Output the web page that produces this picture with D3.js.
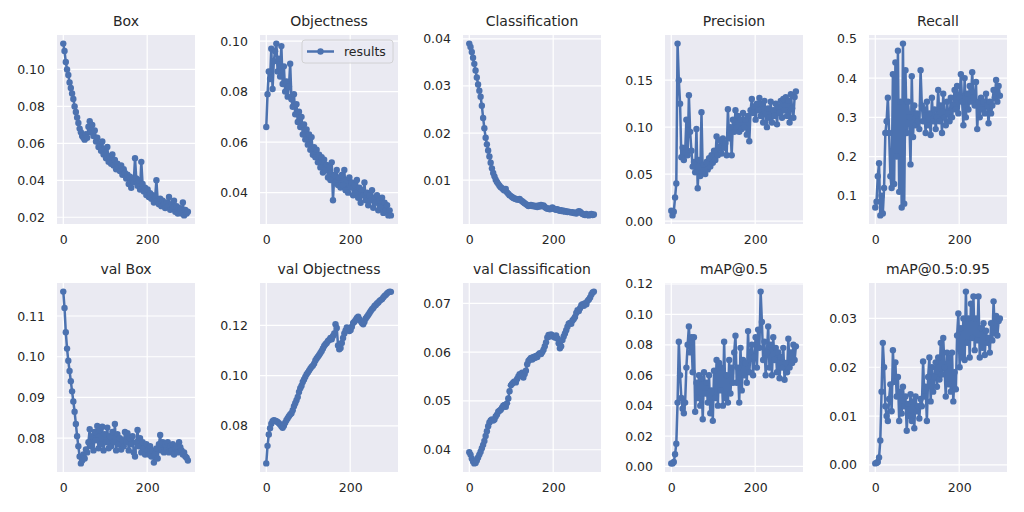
<!DOCTYPE html>
<html>
<head>
<meta charset="utf-8">
<script src="https://cdn.jsdelivr.net/npm/d3@7/dist/d3.min.js"></script>
<style>
  body { margin: 0; background: #fff; }
  text { font-family: "DejaVu Sans", sans-serif; fill: #262626; }
</style>
</head>
<body>
<svg id="chart" width="1024" height="512"></svg>
<script>
// every 3rd epoch, 0..297
var epochs = d3.range(0, 300, 3)

var box = [0.114, 0.110, 0.104, 0.100, 0.097, 0.093, 0.090, 0.087, 0.084, 0.080,
  0.077, 0.074, 0.071, 0.068, 0.066, 0.064, 0.063, 0.062, 0.065, 0.063,
  0.069, 0.072, 0.066, 0.070, 0.064, 0.067, 0.061, 0.063, 0.058, 0.060,
  0.056, 0.061, 0.054, 0.057, 0.052, 0.058, 0.050, 0.053, 0.049, 0.054,
  0.048, 0.051, 0.046, 0.049, 0.047, 0.045, 0.048, 0.043, 0.046, 0.044,
  0.041, 0.043, 0.038, 0.042, 0.036, 0.040, 0.039, 0.052, 0.041, 0.037,
  0.040, 0.035, 0.050, 0.038, 0.034, 0.036, 0.032, 0.035, 0.031, 0.033,
  0.030, 0.032, 0.028, 0.031, 0.040, 0.029, 0.027, 0.030, 0.026, 0.029,
  0.027, 0.025, 0.028, 0.026, 0.031, 0.024, 0.027, 0.025, 0.029, 0.023,
  0.026, 0.022, 0.025, 0.024, 0.022, 0.028, 0.021, 0.024, 0.022, 0.023]

var objectness = [0.066, 0.079, 0.088, 0.085, 0.097, 0.081, 0.092, 0.096, 0.099, 0.088,
  0.093, 0.086, 0.098, 0.083, 0.090, 0.080, 0.084, 0.078, 0.082, 0.091,
  0.077, 0.074, 0.079, 0.071, 0.075, 0.068, 0.072, 0.066, 0.070, 0.063,
  0.067, 0.061, 0.065, 0.059, 0.063, 0.057, 0.062, 0.055, 0.058, 0.054,
  0.057, 0.052, 0.055, 0.050, 0.054, 0.048, 0.053, 0.049, 0.051, 0.046,
  0.050, 0.045, 0.052, 0.037, 0.047, 0.044, 0.049, 0.043, 0.046, 0.042,
  0.047, 0.043, 0.049, 0.041, 0.045, 0.040, 0.046, 0.042, 0.044, 0.039,
  0.043, 0.040, 0.045, 0.038, 0.042, 0.036, 0.041, 0.039, 0.044, 0.037,
  0.040, 0.035, 0.039, 0.037, 0.041, 0.034, 0.038, 0.036, 0.039, 0.033,
  0.037, 0.034, 0.038, 0.032, 0.036, 0.033, 0.035, 0.031, 0.033, 0.031]

var classification = [0.0390, 0.0383, 0.0372, 0.0360, 0.0347, 0.0333, 0.0318, 0.0303, 0.0290, 0.0277,
  0.0258, 0.0232, 0.0210, 0.0190, 0.0176, 0.0163, 0.0150, 0.0137, 0.0125, 0.0115,
  0.0108, 0.0101, 0.0096, 0.0092, 0.0088, 0.0085, 0.0083, 0.0080, 0.0078, 0.0081,
  0.0074, 0.0071, 0.0068, 0.0066, 0.0064, 0.0062, 0.0061, 0.0060, 0.0059, 0.0058,
  0.0060, 0.0057, 0.0055, 0.0053, 0.0051, 0.0049, 0.0047, 0.0045, 0.0046, 0.0047,
  0.0045, 0.0046, 0.0044, 0.0045, 0.0043, 0.0046, 0.0044, 0.0047, 0.0045, 0.0046,
  0.0043, 0.0041, 0.0039, 0.0040, 0.0038, 0.0039, 0.0042, 0.0040, 0.0038, 0.0037,
  0.0038, 0.0036, 0.0035, 0.0036, 0.0034, 0.0035, 0.0033, 0.0034, 0.0032, 0.0033,
  0.0032, 0.0031, 0.0032, 0.0030, 0.0031, 0.0029, 0.0032, 0.0034, 0.0033, 0.0030,
  0.0028, 0.0027, 0.0026, 0.0028, 0.0026, 0.0025, 0.0027, 0.0028, 0.0026, 0.0027]

var precision = [0.011, 0.006, 0.010, 0.025, 0.040, 0.189, 0.150, 0.125, 0.068, 0.078,
  0.065, 0.073, 0.108, 0.070, 0.134, 0.095, 0.075, 0.058, 0.063, 0.052,
  0.098, 0.035, 0.065, 0.048, 0.116, 0.052, 0.060, 0.050, 0.063, 0.055,
  0.067, 0.058, 0.070, 0.062, 0.075, 0.065, 0.090, 0.070, 0.078, 0.086,
  0.072, 0.088, 0.078, 0.083, 0.070, 0.119, 0.088, 0.100, 0.070, 0.108,
  0.095, 0.118, 0.100, 0.112, 0.095, 0.108, 0.098, 0.115, 0.100, 0.108,
  0.092, 0.112, 0.085, 0.118, 0.130, 0.115, 0.122, 0.108, 0.125, 0.118,
  0.131, 0.112, 0.125, 0.105, 0.128, 0.115, 0.100, 0.120, 0.110, 0.127,
  0.105, 0.118, 0.112, 0.125, 0.103, 0.122, 0.115, 0.128, 0.110, 0.130,
  0.118, 0.132, 0.112, 0.128, 0.105, 0.135, 0.120, 0.110, 0.132, 0.138]

var recall = [0.070, 0.085, 0.150, 0.183, 0.050, 0.100, 0.055, 0.120, 0.260, 0.290,
  0.350, 0.260, 0.150, 0.120, 0.410, 0.130, 0.440, 0.200, 0.470, 0.110,
  0.340, 0.070, 0.488, 0.080, 0.420, 0.260, 0.340, 0.300, 0.180, 0.405,
  0.250, 0.330, 0.280, 0.310, 0.290, 0.270, 0.420, 0.330, 0.290, 0.320,
  0.260, 0.340, 0.280, 0.310, 0.255, 0.350, 0.290, 0.320, 0.270, 0.300,
  0.370, 0.290, 0.330, 0.260, 0.360, 0.300, 0.280, 0.340, 0.310, 0.290,
  0.350, 0.300, 0.330, 0.370, 0.320, 0.380, 0.310, 0.350, 0.410, 0.340,
  0.280, 0.400, 0.300, 0.360, 0.320, 0.380, 0.340, 0.415, 0.350, 0.330,
  0.390, 0.270, 0.340, 0.300, 0.350, 0.320, 0.340, 0.310, 0.360, 0.330,
  0.285, 0.340, 0.310, 0.330, 0.370, 0.350, 0.395, 0.340, 0.380, 0.355]

var valBox = [0.1160, 0.1120, 0.1060, 0.1020, 0.0990, 0.0965, 0.0940, 0.0915, 0.0890, 0.0865,
  0.0835, 0.0805, 0.0780, 0.0755, 0.0738, 0.0745, 0.0760, 0.0750, 0.0772, 0.0765,
  0.0790, 0.0822, 0.0780, 0.0805, 0.0770, 0.0815, 0.0795, 0.0830, 0.0775, 0.0820,
  0.0785, 0.0828, 0.0770, 0.0810, 0.0790, 0.0826, 0.0775, 0.0805, 0.0780, 0.0815,
  0.0790, 0.0835, 0.0770, 0.0810, 0.0785, 0.0800, 0.0772, 0.0795, 0.0780, 0.0815,
  0.0790, 0.0812, 0.0770, 0.0800, 0.0785, 0.0805, 0.0765, 0.0755, 0.0790, 0.0820,
  0.0780, 0.0800, 0.0765, 0.0790, 0.0775, 0.0760, 0.0785, 0.0770, 0.0760, 0.0780,
  0.0755, 0.0770, 0.0740, 0.0760, 0.0775, 0.0750, 0.0785, 0.0808, 0.0770, 0.0790,
  0.0765, 0.0785, 0.0770, 0.0790, 0.0765, 0.0780, 0.0770, 0.0785, 0.0760, 0.0775,
  0.0780, 0.0765, 0.0790, 0.0778, 0.0770, 0.0760, 0.0765, 0.0755, 0.0752, 0.0745]

var valObjectness = [0.0650, 0.0720, 0.0765, 0.0790, 0.0808, 0.0818, 0.0822, 0.0820, 0.0818, 0.0815,
  0.0810, 0.0805, 0.0798, 0.0792, 0.0800, 0.0812, 0.0822, 0.0830, 0.0838, 0.0845,
  0.0850, 0.0862, 0.0878, 0.0890, 0.0902, 0.0915, 0.0935, 0.0950, 0.0960, 0.0975,
  0.0985, 0.0995, 0.1005, 0.1012, 0.1020, 0.1028, 0.1035, 0.1040, 0.1048, 0.1060,
  0.1068, 0.1075, 0.1082, 0.1090, 0.1098, 0.1108, 0.1118, 0.1125, 0.1130, 0.1138,
  0.1142, 0.1150, 0.1145, 0.1158, 0.1168, 0.1205, 0.1190, 0.1120, 0.1105, 0.1110,
  0.1130, 0.1150, 0.1168, 0.1180, 0.1192, 0.1185, 0.1178, 0.1182, 0.1195, 0.1210,
  0.1215, 0.1222, 0.1230, 0.1235, 0.1225, 0.1218, 0.1210, 0.1205, 0.1215, 0.1228,
  0.1235, 0.1242, 0.1250, 0.1258, 0.1265, 0.1270, 0.1278, 0.1282, 0.1288, 0.1292,
  0.1298, 0.1302, 0.1305, 0.1312, 0.1318, 0.1322, 0.1328, 0.1332, 0.1335, 0.1334]

var valClassification = [0.0395, 0.0390, 0.0382, 0.0376, 0.0372, 0.0373, 0.0378, 0.0384, 0.0390, 0.0396,
  0.0403, 0.0410, 0.0418, 0.0428, 0.0438, 0.0448, 0.0456, 0.0460, 0.0462, 0.0460,
  0.0462, 0.0468, 0.0472, 0.0478, 0.0480, 0.0482, 0.0486, 0.0490, 0.0492, 0.0488,
  0.0495, 0.0505, 0.0520, 0.0532, 0.0535, 0.0538, 0.0540, 0.0538, 0.0545, 0.0550,
  0.0555, 0.0552, 0.0558, 0.0548, 0.0555, 0.0562, 0.0575, 0.0582, 0.0585, 0.0588,
  0.0585, 0.0590, 0.0588, 0.0592, 0.0590, 0.0595, 0.0598, 0.0596, 0.0600, 0.0605,
  0.0612, 0.0620, 0.0630, 0.0635, 0.0632, 0.0636, 0.0634, 0.0632, 0.0630, 0.0634,
  0.0628, 0.0618, 0.0608, 0.0612, 0.0625, 0.0632, 0.0638, 0.0645, 0.0652, 0.0658,
  0.0660, 0.0658, 0.0665, 0.0668, 0.0672, 0.0680, 0.0686, 0.0684, 0.0690, 0.0696,
  0.0698, 0.0695, 0.0700, 0.0698, 0.0705, 0.0708, 0.0712, 0.0718, 0.0722, 0.0724]

var map50 = [0.002, 0.002, 0.003, 0.008, 0.015, 0.042, 0.082, 0.060, 0.045, 0.038,
  0.035, 0.042, 0.065, 0.080, 0.092, 0.075, 0.085, 0.062, 0.085, 0.036,
  0.055, 0.045, 0.060, 0.040, 0.058, 0.031, 0.062, 0.048, 0.055, 0.042,
  0.060, 0.035, 0.050, 0.030, 0.063, 0.045, 0.070, 0.040, 0.068, 0.050,
  0.065, 0.040, 0.082, 0.045, 0.060, 0.042, 0.070, 0.048, 0.065, 0.055,
  0.075, 0.086, 0.055, 0.065, 0.042, 0.078, 0.050, 0.070, 0.060, 0.068,
  0.055, 0.089, 0.062, 0.075, 0.080, 0.060, 0.072, 0.085, 0.065, 0.090,
  0.078, 0.115, 0.095, 0.070, 0.082, 0.060, 0.075, 0.092, 0.065, 0.080,
  0.060, 0.085, 0.070, 0.078, 0.062, 0.075, 0.058, 0.072, 0.065, 0.078,
  0.057, 0.068, 0.062, 0.084, 0.065, 0.075, 0.068, 0.080, 0.070, 0.079]

var map5095 = [0.0003, 0.0004, 0.0006, 0.0015, 0.0050, 0.0150, 0.0250, 0.0200, 0.0120, 0.0100,
  0.0090, 0.0135, 0.0165, 0.0110, 0.0235, 0.0170, 0.0210, 0.0140, 0.0180, 0.0090,
  0.0150, 0.0105, 0.0160, 0.0120, 0.0140, 0.0070, 0.0125, 0.0100, 0.0145, 0.0090,
  0.0130, 0.0075, 0.0140, 0.0110, 0.0120, 0.0095, 0.0135, 0.0120, 0.0212, 0.0140,
  0.0160, 0.0090, 0.0180, 0.0220, 0.0130, 0.0200, 0.0150, 0.0180, 0.0210, 0.0160,
  0.0220, 0.0175, 0.0250, 0.0185, 0.0260, 0.0200, 0.0140, 0.0230, 0.0165, 0.0220,
  0.0150, 0.0230, 0.0130, 0.0190, 0.0155, 0.0265, 0.0310, 0.0200, 0.0280, 0.0220,
  0.0300, 0.0215, 0.0355, 0.0250, 0.0300, 0.0220, 0.0330, 0.0260, 0.0345, 0.0235,
  0.0300, 0.0255, 0.0345, 0.0220, 0.0280, 0.0240, 0.0290, 0.0225, 0.0275, 0.0250,
  0.0260, 0.0230, 0.0290, 0.0255, 0.0335, 0.0270, 0.0305, 0.0265, 0.0295, 0.0300]

var titles = ['Box', 'Objectness', 'Classification', 'Precision', 'Recall',
  'val Box', 'val Objectness', 'val Classification', 'mAP@0.5', 'mAP@0.5:0.95']
var series = [box, objectness, classification, precision, recall,
  valBox, valObjectness, valClassification, map50, map5095]
var yTicks = [
  [0.02, 0.04, 0.06, 0.08, 0.10],
  [0.04, 0.06, 0.08, 0.10],
  [0.01, 0.02, 0.03, 0.04],
  [0.00, 0.05, 0.10, 0.15],
  [0.1, 0.2, 0.3, 0.4, 0.5],
  [0.08, 0.09, 0.10, 0.11],
  [0.08, 0.10, 0.12],
  [0.04, 0.05, 0.06, 0.07],
  [0.00, 0.02, 0.04, 0.06, 0.08, 0.10, 0.12],
  [0.00, 0.01, 0.02, 0.03]
]
var yFormats = ['.2f', '.2f', '.2f', '.2f', '.1f', '.2f', '.2f', '.2f', '.2f', '.2f']
var xTicks = [0, 200]

var color = '#4C72B0'
var lefts = [57, 260, 463, 665, 869],
    tops = [35, 283],
    w = 138, h = 189

var svg = d3.select('#chart')
var defs = svg.append('defs')

var x = d3.scaleLinear()
    .domain([0 - 299 * 0.05, 299 * 1.05])
    .range([0, w])

series.forEach(function(values, i) {
  var col = i % 5, row = Math.floor(i / 5)
  var ext = d3.extent(values), pad = (ext[1] - ext[0]) * 0.05
  var y = d3.scaleLinear()
      .domain([ext[0] - pad, ext[1] + pad])
      .range([h, 0])

  var g = svg.append('g')
      .attr('transform', 'translate(' + lefts[col] + ', ' + tops[row] + ')')

  defs.append('clipPath').attr('id', 'clip' + i)
    .append('rect').attr('width', w).attr('height', h)

  g.append('rect')
      .attr('width', w)
      .attr('height', h)
      .attr('fill', '#EAEAF2')

  // grid
  g.selectAll('.hgrid').data(yTicks[i]).enter().append('line')
      .attr('x1', 0).attr('x2', w)
      .attr('y1', function(d) { return y(d) })
      .attr('y2', function(d) { return y(d) })
      .attr('stroke', '#fff').attr('stroke-width', 1.2)
  g.selectAll('.vgrid').data(xTicks).enter().append('line')
      .attr('y1', 0).attr('y2', h)
      .attr('x1', function(d) { return x(d) })
      .attr('x2', function(d) { return x(d) })
      .attr('stroke', '#fff').attr('stroke-width', 1.2)

  // axes, no domain lines or tick marks (seaborn darkgrid look)
  var yAxis = g.append('g')
      .call(d3.axisLeft(y).tickValues(yTicks[i]).tickFormat(d3.format(yFormats[i])).tickSize(0).tickPadding(12))
  var xAxis = g.append('g')
      .attr('transform', 'translate(0, ' + h + ')')
      .call(d3.axisBottom(x).tickValues(xTicks).tickFormat(d3.format('d')).tickSize(0).tickPadding(11))
  ;[xAxis, yAxis].forEach(function(a) {
    a.select('.domain').remove()
    a.selectAll('text').attr('font-size', 12.5).attr('font-family', '"DejaVu Sans", sans-serif').attr('fill', '#262626')
  })

  var plot = g.append('g').attr('clip-path', 'url(#clip' + i + ')')

  var line = d3.line()
      .x(function(d, j) { return x(epochs[j]) })
      .y(function(d) { return y(d) })

  plot.append('path')
      .datum(values)
      .attr('d', line)
      .attr('fill', 'none')
      .attr('stroke', color)
      .attr('stroke-width', 2.5)
      .attr('stroke-linejoin', 'round')

  plot.selectAll('circle').data(values).enter().append('circle')
      .attr('cx', function(d, j) { return x(epochs[j]) })
      .attr('cy', function(d) { return y(d) })
      .attr('r', 3.2)
      .attr('fill', color)

  g.append('text')
      .attr('x', w / 2)
      .attr('y', -9)
      .attr('text-anchor', 'middle')
      .attr('font-size', 14)
      .text(titles[i])

  if (i === 1) {
    var lg = g.append('g').attr('transform', 'translate(42, 5)')
    lg.append('rect')
        .attr('width', 91).attr('height', 23).attr('rx', 3)
        .attr('fill', '#EAEAF2').attr('fill-opacity', 0.8)
        .attr('stroke', '#CCCCCC').attr('stroke-width', 0.8)
    lg.append('line')
        .attr('x1', 5).attr('x2', 32).attr('y1', 11.5).attr('y2', 11.5)
        .attr('stroke', color).attr('stroke-width', 2.5)
    lg.append('circle')
        .attr('cx', 18.5).attr('cy', 11.5).attr('r', 3.2).attr('fill', color)
    lg.append('text')
        .attr('x', 42).attr('y', 16)
        .attr('font-size', 12.5)
        .text('results')
  }
})
</script>
</body>
</html>
